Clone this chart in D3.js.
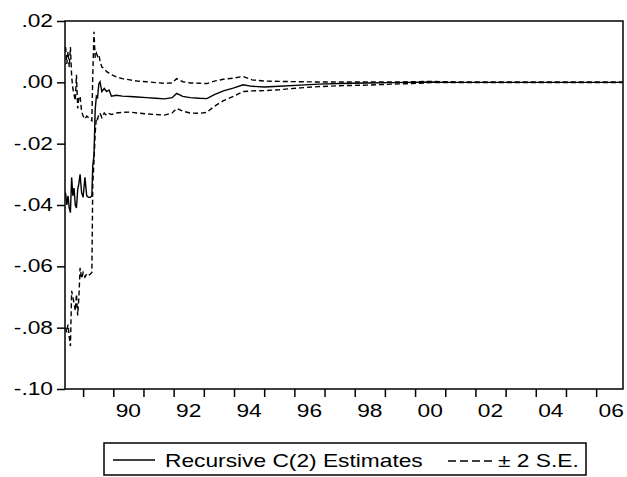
<!DOCTYPE html>
<html>
<head>
<meta charset="utf-8">
<script src="https://cdn.jsdelivr.net/npm/d3@7"></script>
<style>
body { margin: 0; background: #fff; }
text { font-family: "Liberation Sans", Arial, sans-serif; font-size: 17.5px; fill: #000; }
</style>
</head>
<body>
<div id="chart"></div>
<script>
// recursive coefficient C(2) and +/- 2 S.E. band
var years = [
    1988.42, 1988.46, 1988.50, 1988.54, 1988.58, 1988.62, 1988.66, 1988.70, 1988.74, 1988.78,
    1988.82, 1988.86, 1988.90, 1988.95, 1989.00, 1989.06, 1989.12, 1989.18, 1989.24, 1989.29,
    1989.32, 1989.36, 1989.40, 1989.44, 1989.48, 1989.52, 1989.56, 1989.62, 1989.70, 1989.78,
    1989.86, 1989.94, 1990.10, 1990.30, 1990.55, 1990.80, 1991.10, 1991.40, 1991.70, 1991.95,
    1992.10, 1992.30, 1992.55, 1992.85, 1993.10, 1993.35, 1993.65, 1994.00, 1994.30, 1994.60,
    1995.00, 1995.50, 1996.20, 1996.80, 1997.50, 1998.40, 1999.20, 1999.90, 2000.50, 2001.00,
    2002.00, 2003.00, 2004.00, 2005.00, 2006.00, 2006.89
]
var estimate = [
    -0.0360, -0.0400, -0.0370, -0.0410, -0.0425, -0.0310, -0.0370, -0.0345, -0.0400, -0.0410,
    -0.0350, -0.0330, -0.0300, -0.0360, -0.0375, -0.0310, -0.0370, -0.0375, -0.0375, -0.0370,
    -0.0270, -0.0240, -0.0090, -0.0045, -0.0050, -0.0005, 0.0002, -0.0030, -0.0020, -0.0030,
    -0.0025, -0.0045, -0.0042, -0.0045, -0.0046, -0.0048, -0.0050, -0.0052, -0.0054, -0.0050,
    -0.0036, -0.0046, -0.0050, -0.0052, -0.0053, -0.0040, -0.0028, -0.0018, -0.0008, -0.0013,
    -0.0015, -0.0013, -0.0009, -0.0006, -0.0004, -0.0002, -0.0001, 0.0000, 0.0001, 0.0000,
    0.0000, 0.0000, 0.0000, 0.0000, 0.0000, 0.0000
]
var upper = [
    0.0115, 0.0060, 0.0100, 0.0050, 0.0115, 0.0020, -0.0020, -0.0040, -0.0060, 0.0025,
    -0.0085, -0.0050, -0.0045, -0.0095, -0.0110, -0.0120, -0.0110, -0.0115, -0.0120, -0.0125,
    0.0020, 0.0165, 0.0080, 0.0095, 0.0085, 0.0090, 0.0070, 0.0050, 0.0045, 0.0035,
    0.0030, 0.0025, 0.0018, 0.0012, 0.0008, 0.0004, 0.0002, -0.0001, -0.0003, -0.0002,
    0.0012, 0.0002, -0.0002, -0.0003, -0.0004, 0.0004, 0.0010, 0.0014, 0.0019, 0.0008,
    0.0004, 0.0003, 0.0002, 0.0001, 0.0001, 0.0001, 0.0001, 0.0002, 0.0003, 0.0002,
    0.0001, 0.0001, 0.0001, 0.0001, 0.0001, 0.0001
]
var lower = [
    -0.0800, -0.0815, -0.0790, -0.0830, -0.0860, -0.0680, -0.0700, -0.0720, -0.0745, -0.0690,
    -0.0760, -0.0700, -0.0605, -0.0640, -0.0620, -0.0635, -0.0625, -0.0630, -0.0625, -0.0620,
    -0.0330, -0.0260, -0.0165, -0.0115, -0.0120, -0.0105, -0.0100, -0.0115, -0.0100, -0.0108,
    -0.0102, -0.0105, -0.0100, -0.0098, -0.0097, -0.0100, -0.0103, -0.0105, -0.0107, -0.0100,
    -0.0085, -0.0094, -0.0100, -0.0101, -0.0098, -0.0078, -0.0060, -0.0045, -0.0030, -0.0028,
    -0.0027, -0.0024, -0.0018, -0.0014, -0.0011, -0.0009, -0.0006, -0.0004, -0.0001, -0.0001,
    -0.0001, -0.0001, -0.0001, -0.0001, -0.0001, -0.0001
]

var yTicks = [0.02, 0.00, -0.02, -0.04, -0.06, -0.08, -0.10]
var yLabels = ['.02', '.00', '-.02', '-.04', '-.06', '-.08', '-.10']
var xTickYears = d3.range(1989, 2007)
var xLabelYears = [1990, 1992, 1994, 1996, 1998, 2000, 2002, 2004, 2006]
var xLabels = ['90', '92', '94', '96', '98', '00', '02', '04', '06']
var legendLabels = ['Recursive C(2) Estimates', '\u00b1 2 S.E.']

var chart_width = 627
var chart_height = 477
var plot_left = 65, plot_right = 623, plot_top = 21, plot_bottom = 389
var stretch = 1.3   // text in the picture is drawn wide

var svg = d3.select('#chart')
    .append('svg')
    .attr('width', chart_width)
    .attr('height', chart_height)

var x = d3.scaleLinear().domain([1988.4, 2006.89]).range([plot_left, plot_right])
var y = d3.scaleLinear().domain([-0.10, 0.02]).range([plot_bottom, plot_top])

function wideText(g, str, tx, ty, anchor) {
    return g.append('text')
        .attr('transform', 'translate(' + tx + ',' + ty + ') scale(' + stretch + ',1)')
        .attr('text-anchor', anchor)
        .text(str)
}

// axes: ticks only, labels drawn separately
var xAxis = svg.append('g')
    .attr('transform', 'translate(0,' + plot_bottom + ')')
    .call(d3.axisBottom(x).tickValues(xTickYears).tickSize(8).tickFormat(''))
xAxis.select('.domain').remove()
xAxis.selectAll('line').attr('stroke', '#000').attr('stroke-width', 1.5)

var yAxis = svg.append('g')
    .attr('transform', 'translate(' + plot_left + ',0)')
    .call(d3.axisLeft(y).tickValues(yTicks).tickSize(8).tickFormat(''))
yAxis.select('.domain').remove()
yAxis.selectAll('line').attr('stroke', '#000').attr('stroke-width', 1.5)

var labels = svg.append('g')
xLabelYears.forEach(function(yr, i) {
    wideText(labels, xLabels[i], x(yr + 0.5), 417, 'middle')
})
yTicks.forEach(function(v, i) {
    wideText(labels, yLabels[i], 53, y(v) + 6, 'end')
})

// series
var line = d3.line()
    .x(function(d, i) { return x(years[i]) })
    .y(function(d) { return y(d) })

svg.append('path').datum(upper)
    .attr('d', line).attr('fill', 'none').attr('stroke', '#000')
    .attr('stroke-width', 1.4).attr('stroke-dasharray', '5,3')
svg.append('path').datum(lower)
    .attr('d', line).attr('fill', 'none').attr('stroke', '#000')
    .attr('stroke-width', 1.4).attr('stroke-dasharray', '5,3')
svg.append('path').datum(estimate)
    .attr('d', line).attr('fill', 'none').attr('stroke', '#000')
    .attr('stroke-width', 1.4)

// frame
svg.append('rect')
    .attr('x', plot_left).attr('y', plot_top)
    .attr('width', plot_right - plot_left).attr('height', plot_bottom - plot_top)
    .attr('fill', 'none').attr('stroke', '#000').attr('stroke-width', 1.5)

// legend
var legend = svg.append('g')
legend.append('rect')
    .attr('x', 104).attr('y', 443).attr('width', 482).attr('height', 32)
    .attr('fill', 'none').attr('stroke', '#000').attr('stroke-width', 1.5)
legend.append('line')
    .attr('x1', 113).attr('x2', 155).attr('y1', 460).attr('y2', 460)
    .attr('stroke', '#000').attr('stroke-width', 1.4)
wideText(legend, legendLabels[0], 165, 467, 'start')
legend.append('line')
    .attr('x1', 448).attr('x2', 493).attr('y1', 461).attr('y2', 461)
    .attr('stroke', '#000').attr('stroke-width', 1.4).attr('stroke-dasharray', '8,4')
wideText(legend, legendLabels[1], 498, 467, 'start')
</script>
</body>
</html>
